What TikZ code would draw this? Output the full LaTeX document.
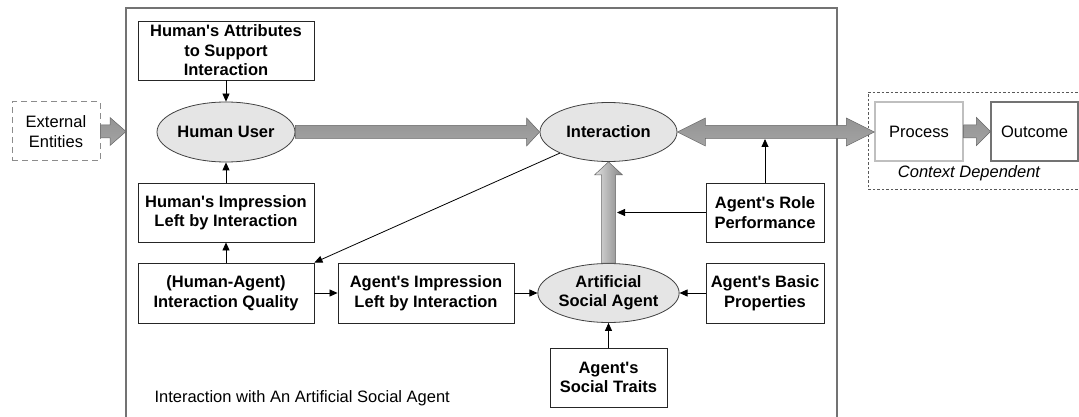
\documentclass[tikz,border=0pt]{standalone}
\usepackage{fontspec}
\setmainfont{Liberation Sans}[Ligatures=TeXOff]
\usetikzlibrary{shapes.geometric,arrows.meta,calc}
\tikzset{
  box/.style={draw=black!85, line width=0.9pt, rectangle, align=center, inner sep=0pt,
    minimum height=59pt, font=\bfseries\fontsize{16.5}{19.5}\selectfont},
  oval/.style={draw=black!75, line width=0.8pt, ellipse, fill=black!10, align=center, inner sep=0pt,
    minimum width=137pt, minimum height=59pt, font=\bfseries\fontsize{16.5}{19.5}\selectfont},
  plain/.style={rectangle, align=center, inner sep=0pt, minimum height=59pt,
    font=\fontsize{16.5}{19.5}\selectfont},
  thin/.style={draw=black, line width=0.8pt, -{Triangle[length=8pt,width=7pt]}},
  fatshade/.style={top color=black!42, middle color=black!20, bottom color=black!36, draw=black!60, line width=0.5pt},
  vshade/.style={left color=black!12, right color=black!48, draw=black!60, line width=0.5pt},
}
\newcommand{\hfatarrow}[3]{%
  \path[fatshade] let \p1=(#1), \p2=(#2) in
    (\x1,\y1+6.5pt) -- (\x2-#3,\y1+6.5pt) -- (\x2-#3,\y1+14pt) -- (\x2,\y1)
    -- (\x2-#3,\y1-14pt) -- (\x2-#3,\y1-6.5pt) -- (\x1,\y1-6.5pt) -- cycle;}
\newcommand{\hdblarrow}[3]{%
  \path[fatshade] let \p1=(#1), \p2=(#2) in
    (\x1,\y1) -- (\x1+#3,\y1+14pt) -- (\x1+#3,\y1+6.5pt) -- (\x2-#3,\y1+6.5pt)
    -- (\x2-#3,\y1+14pt) -- (\x2,\y1) -- (\x2-#3,\y1-14pt) -- (\x2-#3,\y1-6.5pt)
    -- (\x1+#3,\y1-6.5pt) -- (\x1+#3,\y1-14pt) -- cycle;}
\newcommand{\vfatarrow}[3]{%
  \path[vshade] let \p1=(#1), \p2=(#2) in
    (\x1-7pt,\y1) -- (\x1-7pt,\y2-#3) -- (\x1-14pt,\y2-#3) -- (\x1,\y2)
    -- (\x1+14pt,\y2-#3) -- (\x1+7pt,\y2-#3) -- (\x1+7pt,\y1) -- cycle;}
\begin{document}
\begin{tikzpicture}[x=1pt,y=-1pt]
\useasboundingbox (0,0) rectangle (1079,417);
% frame
\draw[draw=black!55, line width=1.3pt] (126,8) rectangle (837,422);
\node[anchor=west, font=\fontsize{16.5}{19.5}\selectfont] (cap) at (151,398) {Interaction with An Artificial Social Agent};
% context box
\draw[draw=black!65, line width=0.6pt, dash pattern=on 2.5pt off 2pt] (868,92) -- (1082,92) (1082,189) -- (868,189) -- (868,92);
\node[font=\itshape\fontsize{16.5}{19.5}\selectfont] (ctx) at (969,173) {Context Dependent};
% nodes
\node[box, minimum width=176pt] (attr) at (226,50.5) {Human's Attributes\\to Support\\Interaction};
\node[oval, minimum width=138pt, minimum height=60pt] (hu) at (226,132) {Human User};
\node[box, minimum width=176pt] (himp) at (226,212.5) {Human's Impression\\Left by Interaction};
\node[box, minimum width=176pt, minimum height=60pt] (qual) at (226,293) {(Human-Agent)\\Interaction Quality};
\node[box, minimum width=176pt, minimum height=60pt] (aimp) at (426,293) {Agent's Impression\\Left by Interaction};
\node[oval] (asa) at (608.5,293) {Artificial\\Social Agent};
\node[box, minimum width=117pt] (traits) at (608.5,377.5) {Agent's\\Social Traits};
\node[box, minimum width=118pt, minimum height=60pt] (basic) at (765,293) {Agent's Basic\\Properties};
\node[box, minimum width=118pt] (role) at (765,212.5) {Agent's Role\\Performance};
\node[oval] (inter) at (608.5,132) {Interaction};
\node[plain, draw=black!45, line width=1pt, dash pattern=on 6pt off 4pt, minimum width=88pt] (ext) at (56,131.5) {External\\Entities};
\node[plain, draw=black!25, line width=1.2pt, minimum width=88pt] (proc) at (919,131.5) {Process};
\node[plain, draw=black!55, line width=1.2pt, minimum width=87pt] (out) at (1034.5,131.5) {Outcome};
\coordinate (rt) at (765,139);
\coordinate (va) at (617,212.5);
% fat arrows
\hfatarrow{ext.east}{126,131.5}{16pt}
\hfatarrow{hu.east}{inter.west}{13pt}
\hdblarrow{inter.east}{proc.west}{28pt}
\vfatarrow{asa.north}{inter.south}{13pt}
\hfatarrow{proc.east}{out.west}{14pt}
% thin arrows
\draw[thin] (attr.south) -- (hu.north);
\draw[thin] (himp.north) -- (hu.south);
\draw[thin] (qual.north) -- (himp.south);
\draw[thin] (qual.east) -- (aimp.west);
\draw[thin] (aimp.east) -- (asa.west);
\draw[thin] (basic.west) -- (asa.east);
\draw[thin] (traits.north) -- (asa.south);
\draw[thin] (role.north) -- (rt);
\draw[thin] (role.west) -- (va);
\draw[thin] (inter.south west) -- (qual.north east);
\end{tikzpicture}
\end{document}
